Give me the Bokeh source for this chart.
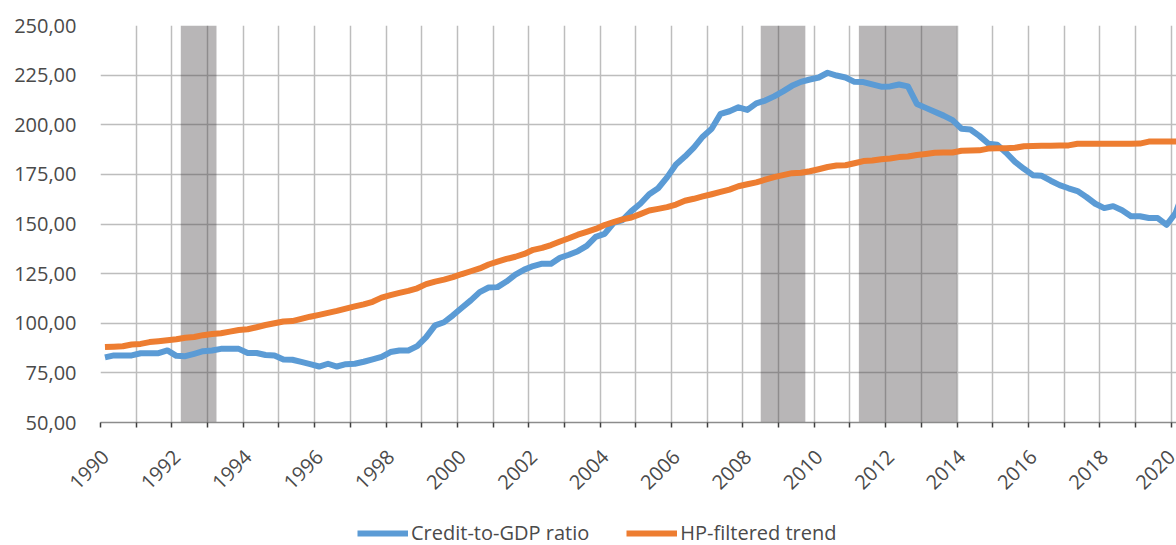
import math
from bokeh.plotting import figure
from bokeh.layouts import column
from bokeh.models import (Range1d, FixedTicker, LinearAxis, CustomJSTickFormatter,
                          Legend, LegendItem, ColumnDataSource, Grid)
from bokeh.embed import file_html
from bokeh.resources import INLINE

# ---- data (quarterly, first quarter 1990Q1) ----
first_year = 1990
credit_to_gdp = [
    82.8, 83.8, 83.8, 83.8, 84.9, 84.9, 84.9, 86.3,
    83.6, 83.4, 84.6, 85.9, 86.3, 87.1, 87.1, 87.1,
    85.0, 85.0, 84.0, 83.7, 81.7, 81.6, 80.5, 79.4,
    78.2, 79.6, 78.2, 79.4, 79.6, 80.6, 81.8, 83.1,
    85.5, 86.3, 86.3, 88.5, 93.0, 98.9, 100.5, 104.0,
    107.8, 111.5, 115.7, 118.0, 118.2, 121.0, 124.5, 127.0,
    128.8, 130.0, 130.0, 133.0, 134.5, 136.3, 139.0, 143.5,
    145.0, 150.5, 152.0, 156.5, 160.2, 165.0, 168.0, 173.5,
    180.0, 184.0, 188.5, 194.0, 198.0, 205.5, 206.8, 208.8,
    207.5, 210.8, 212.2, 214.3, 216.8, 219.6, 221.6, 222.8,
    223.8, 226.2, 224.8, 223.8, 221.6, 221.5, 220.3, 219.2,
    219.3, 220.3, 219.3, 210.5, 208.5, 206.5, 204.6, 202.3,
    198.0, 197.6, 194.4, 190.5, 189.9, 185.9, 181.3, 177.8,
    174.6, 174.3, 171.8, 169.6, 168.0, 166.6, 163.6, 160.2,
    158.0, 159.0, 156.9, 153.9, 153.9, 153.0, 153.0, 149.6,
    155.5, 168.0,
]
hp_trend = [
    88.0, 88.2, 88.4, 89.3, 89.6, 90.5, 90.9, 91.4,
    91.9, 92.7, 93.1, 94.0, 94.6, 95.0, 95.8, 96.6,
    97.0, 98.0, 99.1, 100.0, 100.9, 101.1, 102.2, 103.3,
    104.2, 105.2, 106.2, 107.4, 108.5, 109.5, 110.8, 112.9,
    114.2, 115.3, 116.3, 117.6, 119.7, 121.0, 122.0, 123.2,
    124.8, 126.2, 127.6, 129.6, 131.0, 132.4, 133.5, 134.9,
    137.0, 138.0, 139.4, 141.2, 142.8, 144.6, 146.0, 147.5,
    149.5, 150.9, 152.3, 153.3, 155.0, 156.8, 157.6, 158.5,
    159.8, 161.7, 162.7, 163.9, 165.0, 166.2, 167.3, 169.0,
    170.0, 171.0, 172.3, 173.6, 174.6, 175.6, 175.8, 176.6,
    177.6, 178.7, 179.5, 179.6, 180.6, 181.7, 182.0, 182.6,
    183.0, 183.7, 184.0, 184.8, 185.3, 185.9, 186.0, 186.0,
    186.9, 187.0, 187.1, 188.0, 188.2, 188.2, 188.4, 189.2,
    189.3, 189.4, 189.4, 189.5, 189.6, 190.4, 190.4, 190.4,
    190.4, 190.4, 190.4, 190.4, 190.5, 191.5, 191.6, 191.6,
    191.6, 191.7,
]
recession_start = [1992.25, 2008.5, 2011.25]
recession_end = [1993.25, 2009.75, 2014.0]
label_years = list(range(1990, 2021, 2))
all_years = list(range(1990, 2021))
y_ticks = [50, 75, 100, 125, 150, 175, 200, 225, 250]
series_names = ["Credit-to-GDP ratio", "HP-filtered trend"]

# time axis: middle of each quarter
t = [first_year + 0.125 + 0.25 * i for i in range(len(credit_to_gdp))]

FONT = "Open Sans"
TXT = "#4a4a4a"
BLUE = "#5b9bd5"
ORANGE = "#ed7d31"
LW = 6

p = figure(width=1176, height=510, output_backend="svg", toolbar_location=None,
           x_range=Range1d(1990, 2020.15), y_range=Range1d(50, 250),
           min_border_left=100, min_border_right=0, min_border_top=25,
           min_border_bottom=88, x_axis_type=None, y_axis_type=None)
p.outline_line_color = None
p.background_fill_color = "white"
p.border_fill_color = "white"

# grids
for dim, ticks in ((0, all_years), (1, y_ticks)):
    g = Grid(dimension=dim, ticker=FixedTicker(ticks=ticks))
    g.grid_line_color = "#bdbdbd"
    g.grid_line_width = 1.5
    p.add_layout(g)

# recession shading
p.quad(left=recession_start, right=recession_end, bottom=50, top=250,
       fill_color="#3c3739", fill_alpha=0.364, line_color=None)

src = ColumnDataSource(dict(t=t, c=credit_to_gdp, h=hp_trend))
p.line("t", "c", source=src, line_color=BLUE, line_width=LW, line_join="round")
p.line("t", "h", source=src, line_color=ORANGE, line_width=LW, line_join="round")

# y axis
yax = LinearAxis(ticker=FixedTicker(ticks=y_ticks),
                 formatter=CustomJSTickFormatter(code="return tick.toFixed(2).replace('.', ',')"))
yax.axis_line_color = None
yax.major_tick_line_color = None
yax.minor_tick_line_color = None
yax.major_tick_out = 0
yax.major_label_standoff = 24
yax.major_label_text_font = FONT
yax.major_label_text_font_size = "20px"
yax.major_label_text_color = TXT
p.add_layout(yax, "left")

# x axis: line + ticks (every year), no labels
xax = LinearAxis(ticker=FixedTicker(ticks=label_years,
                                    minor_ticks=[y for y in all_years if y % 2]),
                 formatter=CustomJSTickFormatter(code="return ''"))
xax.axis_line_color = "#8c8c8c"
xax.axis_line_width = 1.5
xax.major_tick_line_color = "#404040"
xax.minor_tick_line_color = "#404040"
xax.major_tick_line_width = 1.5
xax.minor_tick_line_width = 1.5
xax.major_tick_in = 0
xax.minor_tick_in = 0
xax.major_tick_out = 5
xax.minor_tick_out = 5
xax.major_label_standoff = 0
xax.major_label_text_font_size = "2px"
p.add_layout(xax, "below")

# x axis tick labels (rotated, anchored like the original)
p.extra_x_ranges = {"lab": Range1d(1990 - 0.14, 2020.15 - 0.14)}
xlab = LinearAxis(x_range_name="lab", ticker=FixedTicker(ticks=label_years),
                  formatter=CustomJSTickFormatter(code="return tick.toFixed(0)"))
xlab.axis_line_color = None
xlab.major_tick_line_color = None
xlab.minor_tick_line_color = None
xlab.major_tick_out = 0
xlab.major_tick_in = 0
xlab.major_label_standoff = 26
xlab.major_label_orientation = math.pi / 4
xlab.major_label_text_font = FONT
xlab.major_label_text_font_size = "20px"
xlab.major_label_text_color = TXT
p.add_layout(xlab, "below")

# legend strip below the chart (its lines sit outside the visible range)
q = figure(width=1176, height=35, output_backend="svg", toolbar_location=None,
           x_range=Range1d(0, 1), y_range=Range1d(0, 1),
           min_border_left=0, min_border_right=0, min_border_top=0,
           min_border_bottom=0, x_axis_type=None, y_axis_type=None)
q.outline_line_color = None
q.xgrid.visible = False
q.ygrid.visible = False
l1 = q.line(x=[5, 6], y=[5, 6], line_color=BLUE, line_width=LW)
l2 = q.line(x=[5, 6], y=[5, 6], line_color=ORANGE, line_width=LW)
legend = Legend(items=[LegendItem(label=series_names[0], renderers=[l1]),
                       LegendItem(label=series_names[1], renderers=[l2])],
                orientation="horizontal", location=(257, -1))
legend.border_line_color = None
legend.background_fill_alpha = 0
legend.padding = 0
legend.margin = 0
legend.spacing = 37
legend.glyph_width = 51
legend.label_standoff = 3
legend.label_text_font = FONT
legend.label_text_font_size = "20px"
legend.label_text_color = TXT
q.add_layout(legend, "center")

layout = column(p, q, spacing=0)
open("out.html", "w").write(file_html(layout, INLINE))
